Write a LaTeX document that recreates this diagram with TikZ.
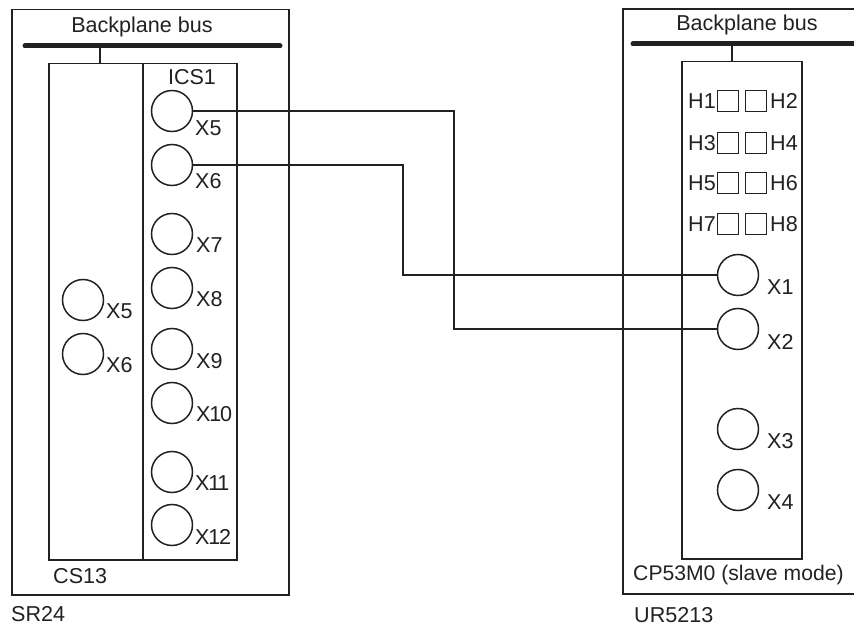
\documentclass[tikz,border=0pt]{standalone}
\usepackage{fontspec}
\setmainfont{Liberation Sans}
\newfontfamily\tightfont[LetterSpace=-6]{Liberation Sans}
\definecolor{ink}{gray}{0.13}
\begin{document}
\begin{tikzpicture}[x=0.03cm,y=-0.03cm,
  box/.style={draw=ink,line width=0.045cm,inner sep=0pt,anchor=north west},
  bus/.style={draw=ink,line width=0.15cm,line cap=round},
  wire/.style={draw=ink,line width=0.042cm},
  conn/.style={draw=ink,line width=0.045cm,circle,minimum size=1.23cm,inner sep=0pt},
  led/.style={draw=ink,line width=0.042cm,minimum size=0.63cm,inner sep=0pt},
  lab/.style={font=\fontsize{18.4pt}{20pt}\selectfont,inner sep=0pt,text=ink}]
\useasboundingbox (0,0) rectangle (854,628);
\node[box,minimum width=8.31cm,minimum height=17.55cm] (L) at (11,9) {};
\node[box,minimum width=5.64cm,minimum height=14.88cm] (CS) at (48,63) {};
\node[box,minimum width=2.82cm,minimum height=14.88cm] (ICS) at (142,63) {};
\coordinate (ra) at (854,9); \coordinate (rb) at (623,9);
\coordinate (rc) at (623,594); \coordinate (rd) at (854,594);
\draw[wire,line width=0.045cm] (ra) -- (rb) -- (rc) -- (rd);
\node[box,minimum width=3.6cm,minimum height=14.91cm] (CP) at (681,61) {};
\coordinate (b1) at (25,46); \coordinate (b2) at (280,46);
\coordinate (b3) at (633,44); \coordinate (b4) at (854,44);
\draw[bus] (b1) -- (b2);
\draw[bus] (b3) -- (b4);
\coordinate (t1) at (100,46); \coordinate (t2) at (100,63);
\coordinate (t3) at (732,44); \coordinate (t4) at (732,61);
\draw[wire] (t1) -- (t2);
\draw[wire] (t3) -- (t4);
\node[lab] at (142,27) {Backplane bus};
\node[lab] at (747,25) {Backplane bus};
\node[lab] at (192,77) {ICS1};
\node[lab,anchor=west] at (53,576) {CS13};
\node[lab,anchor=west] at (11,614) {SR24};
\node[lab,anchor=west,font=\fontsize{18.05pt}{20pt}\selectfont] at (633,575) {CP53M0 (slave mode)};
\node[lab,anchor=west] at (634,615) {UR5213};
\foreach \n/\x/\y in {a5/172/111,a6/172/165,a7/172/234,a8/172/288,a9/172/349,a10/172/403,a11/172/472,a12/172/525,c5/83/300,c6/83/354,r1/738/275,r2/738/329,r3/738/429,r4/738/490}{
  \node[conn] (\n) at (\x,\y) {};
}
\foreach \n/\t/\x/\y in {a5/X5/195/128,a6/X6/195/181,a7/X7/196/245,a8/X8/196/299,a9/X9/196/361,c5/X5/106/311,c6/X6/106/365,r1/X1/767/287,r2/X2/767/342,r3/X3/767/441,r4/X4/767/502}{
  \node[lab,anchor=west] (l\n) at (\x,\y) {\t};
}
\foreach \n/\t/\x/\y in {a10/X10/196/414,a11/X11/195/483,a12/X12/195/537}{
  \node[lab,anchor=west] (l\n) at (\x,\y) {\tightfont \t};
}
\foreach \i/\y in {1/101,3/143,5/183,7/224}{
  \pgfmathtruncatemacro{\j}{\i+1}
  \node[led] (h\i) at (728,\y) {};
  \node[led] (h\j) at (756,\y) {};
  \node[lab,anchor=west] at (688,\y) {H\i};
  \node[lab,anchor=west] at (770,\y) {H\j};
}
\coordinate (w1a) at (454,111); \coordinate (w1b) at (454,329);
\coordinate (w2a) at (403,165); \coordinate (w2b) at (403,275);
\draw[wire] (a5.east) -- (w1a) -- (w1b) -- (r2.west);
\draw[wire] (a6.east) -- (w2a) -- (w2b) -- (r1.west);
\end{tikzpicture}
\end{document}
